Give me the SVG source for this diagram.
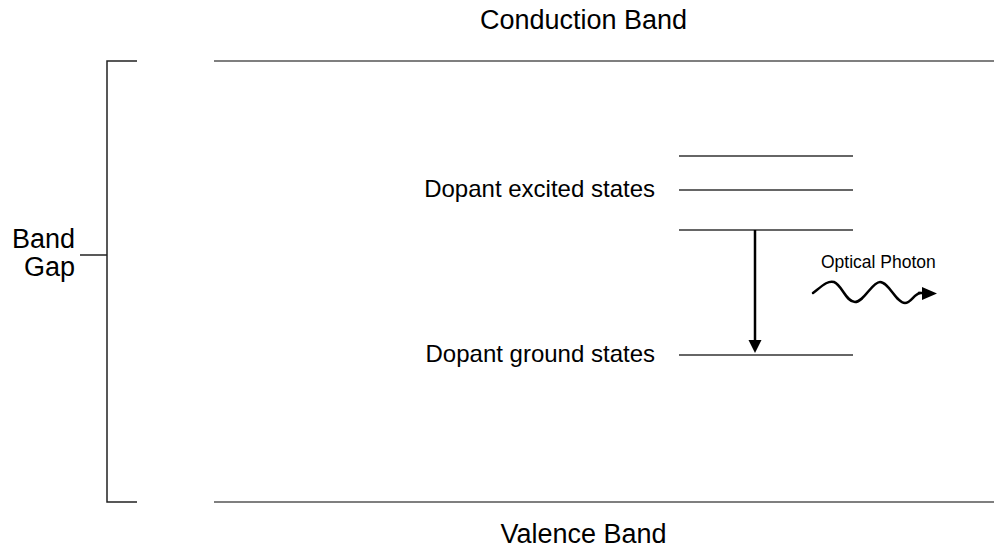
<svg xmlns="http://www.w3.org/2000/svg" width="994" height="552" viewBox="0 0 994 552">
<style>
.t{font-family:"Liberation Sans",Arial,sans-serif;fill:#000}
.band{stroke:#555;stroke-width:1.5;fill:none}
.lvl{stroke:#333;stroke-width:1.5;fill:none}
.br{stroke:#222;stroke-width:1.5;fill:none}
</style>
<rect width="994" height="552" fill="#fff"/>
<g id="conduction-band">
<line class="band" x1="214" y1="61" x2="994" y2="61"/>
<text class="t" x="583.5" y="29" font-size="27" text-anchor="middle">Conduction Band</text>
</g>
<g id="valence-band">
<line class="band" x1="214" y1="502" x2="994" y2="502"/>
<text class="t" x="583.5" y="543" font-size="27" text-anchor="middle">Valence Band</text>
</g>
<g id="band-gap">
<polyline class="br" points="137,61 107,61 107,502 137,502"/>
<line class="br" x1="80" y1="255" x2="107" y2="255"/>
<text class="t" x="75" y="248" font-size="27" text-anchor="end">Band</text>
<text class="t" x="75" y="276" font-size="27" text-anchor="end">Gap</text>
</g>
<g id="excited-states">
<line class="lvl" x1="679" y1="156" x2="853" y2="156"/>
<line class="lvl" x1="679" y1="190" x2="853" y2="190"/>
<line class="lvl" x1="679" y1="230" x2="853" y2="230"/>
<text class="t" x="655" y="197" font-size="24" text-anchor="end">Dopant excited states</text>
</g>
<g id="ground-states">
<line class="lvl" x1="679" y1="355" x2="853" y2="355"/>
<text class="t" x="655" y="362" font-size="24" text-anchor="end">Dopant ground states</text>
</g>
<g id="connectors">
<line x1="755" y1="230" x2="755" y2="341" stroke="#000" stroke-width="2.5"/>
<polygon points="748.5,340 761.5,340 755,353" fill="#000"/>
</g>
<g id="optical-photon">
<path d="M813,293 C822,286 828,280 834,282 C842,285 846,302 855,302 C864,302 872,282 880,282 C889,282 896,303 905,303 C911,303 914,294 920,293" fill="none" stroke="#000" stroke-width="2.5" stroke-linecap="round"/>
<line x1="918" y1="293" x2="924" y2="293" stroke="#000" stroke-width="2.5"/>
<polygon points="922,287 937,293.5 922,300" fill="#000"/>
<text class="t" x="821" y="268" font-size="17.5">Optical Photon</text>
</g>
</svg>
